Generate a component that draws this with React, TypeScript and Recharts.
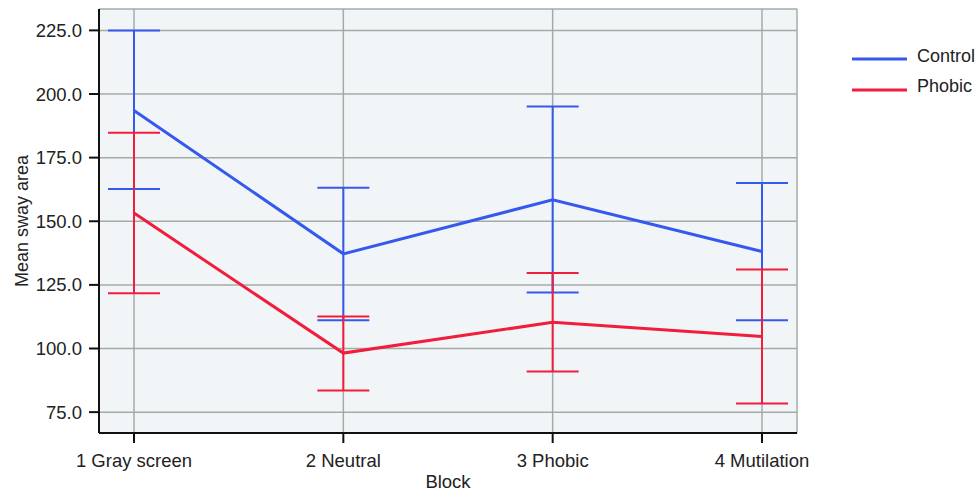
import React from 'react'
import { LineChart, Line, XAxis, YAxis, CartesianGrid, ErrorBar, Legend } from 'recharts'

const blocks = ['1 Gray screen', '2 Neutral', '3 Phobic', '4 Mutilation']

const controlMean = [193.5, 137.2, 158.4, 138.1]
const controlLow = [162.7, 111.1, 122.0, 111.1]
const controlHigh = [225.0, 163.2, 195.1, 165.0]

const phobicMean = [153.2, 98.2, 110.3, 104.7]
const phobicLow = [121.7, 83.5, 91.0, 78.4]
const phobicHigh = [184.8, 112.6, 129.7, 131.0]

const yTicks = [75, 100, 125, 150, 175, 200, 225]

const BLUE = '#3559ee'
const RED = '#f01e3c'
const FONT = '"Liberation Sans", Arial, Helvetica, sans-serif'

const data = blocks.map((block, i) => ({
  block,
  control: controlMean[i],
  controlErr: [controlMean[i] - controlLow[i], controlHigh[i] - controlMean[i]],
  phobic: phobicMean[i],
  phobicErr: [phobicMean[i] - phobicLow[i], phobicHigh[i] - phobicMean[i]],
}))

const LegendBox = () => (
  <svg width={130} height={60} style={{ display: 'block', overflow: 'visible' }}>
    <line x1={0} y1={14} x2={55} y2={14} stroke={BLUE} strokeWidth={3} />
    <text x={65} y={17} fontSize={18} fontFamily={FONT} fill="#222">
      Control
    </text>
    <line x1={0} y1={45} x2={55} y2={45} stroke={RED} strokeWidth={3} />
    <text x={65} y={47} fontSize={18} fontFamily={FONT} fill="#222">
      Phobic
    </text>
  </svg>
)

export default function App() {
  return (
    <div style={{ position: 'absolute', left: 0, top: 0, background: '#fff' }}>
      <LineChart width={979} height={492} data={data} margin={{ top: 9, right: 182, left: 0, bottom: 0 }}>
        <CartesianGrid stroke="#a3aba8" strokeWidth={1.5} fill="#f2f5f7" />
        <XAxis
          dataKey="block"
          height={59}
          padding={{ left: 35, right: 35 }}
          axisLine={{ stroke: '#111', strokeWidth: 2 }}
          tickLine={{ stroke: '#111', strokeWidth: 2 }}
          tickSize={10}
          tickMargin={11}
          tick={{ fontSize: 18.5, fontFamily: FONT, fill: '#222' }}
          label={{
            content: ({ viewBox }: any) => (
              <text
                x={viewBox.x + viewBox.width / 2}
                y={488}
                textAnchor="middle"
                fontSize={18.5}
                fontFamily={FONT}
                fill="#222"
              >
                Block
              </text>
            ),
          }}
        />
        <XAxis xAxisId="top" orientation="top" dataKey="block" height={0} tick={false} tickLine={false} axisLine={{ stroke: '#111', strokeWidth: 2 }} />
        <YAxis
          width={99}
          domain={[66.8, 233.4]}
          ticks={yTicks}
          tickFormatter={(v: number) => v.toFixed(1)}
          axisLine={{ stroke: '#111', strokeWidth: 2 }}
          tickLine={{ stroke: '#111', strokeWidth: 2 }}
          tickSize={10}
          tickMargin={7}
          tick={{ fontSize: 18.5, fontFamily: FONT, fill: '#222' }}
          label={{
            content: ({ viewBox }: any) => (
              <text
                x={22}
                y={viewBox.y + viewBox.height / 2}
                transform={`rotate(-90, 22, ${viewBox.y + viewBox.height / 2})`}
                textAnchor="middle"
                dominantBaseline="central"
                fontSize={18}
                fontFamily={FONT}
                fill="#222"
              >
                Mean sway area
              </text>
            ),
          }}
        />
        <YAxis yAxisId="right" orientation="right" width={0} domain={[66.8, 233.4]} tick={false} tickLine={false} axisLine={{ stroke: '#111', strokeWidth: 2 }} />
        <Legend
          verticalAlign="middle"
          align="center"
          layout="vertical"
          content={() => <LegendBox />}
          wrapperStyle={{ position: 'absolute', left: 852, top: 45, width: 130 }}
        />
        <Line
          dataKey="control"
          name="Control"
          stroke={BLUE}
          strokeWidth={3}
          dot={false}
          activeDot={false}
          isAnimationActive={false}
        >
          <ErrorBar dataKey="controlErr" width={26} stroke={BLUE} strokeWidth={2} isAnimationActive={false} />
        </Line>
        <Line
          dataKey="phobic"
          name="Phobic"
          stroke={RED}
          strokeWidth={3}
          dot={false}
          activeDot={false}
          isAnimationActive={false}
        >
          <ErrorBar dataKey="phobicErr" width={26} stroke={RED} strokeWidth={2} isAnimationActive={false} />
        </Line>
      </LineChart>
    </div>
  )
}
